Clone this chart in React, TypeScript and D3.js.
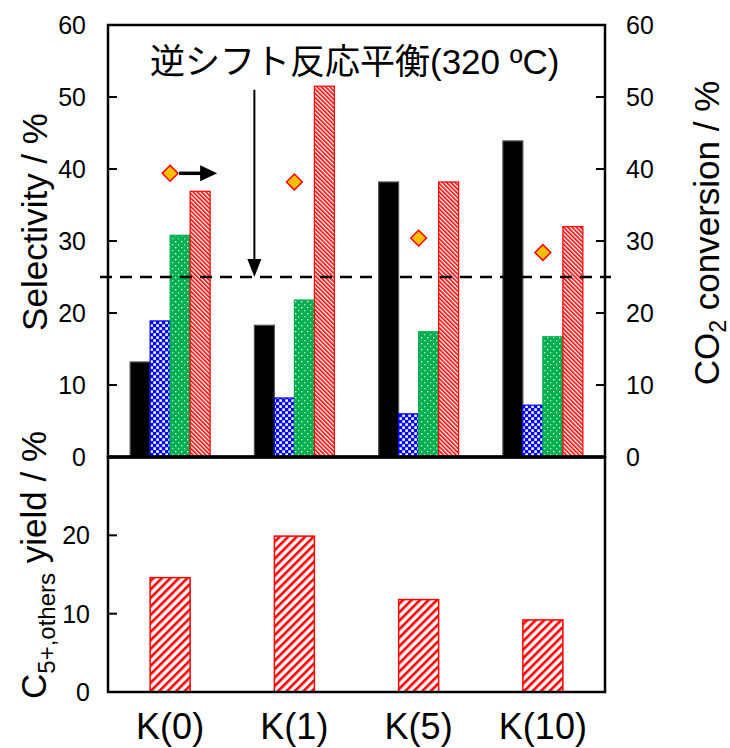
import React from 'react';
import * as d3 from 'd3';

const categories = ['K(0)', 'K(1)', 'K(5)', 'K(10)'];
const series = ['black', 'blue', 'green', 'red'];
// selectivity (%) for each series, per category
const selBlack = [13.2, 18.3, 38.2, 43.9];
const selBlue = [18.9, 8.2, 6.0, 7.2];
const selGreen = [30.8, 21.8, 17.4, 16.7];
const selRed = [36.9, 51.5, 38.2, 32.0];
// CO2 conversion (%), right axis
const conversion = [39.4, 38.2, 30.4, 28.4];
// C5+,others yield (%), lower panel
const yieldC5 = [14.6, 19.9, 11.8, 9.2];
const equilibrium = 25;
const topTicks = [0, 10, 20, 30, 40, 50, 60];
const bottomTicks = [0, 10, 20];

const fontLat = '"Liberation Sans", Arial, "Noto Sans CJK JP", sans-serif';

export default function App() {
  const left = 108, right = 605;
  const topY = 25, midY = 457, botY = 692;

  const x0 = d3.scaleBand().domain(categories).range([left, right]);
  const cx = (c: string) => (x0(c) as number) + x0.bandwidth() / 2;
  const x1 = d3.scaleBand().domain(series).range([-40, 40]);
  const yTop = d3.scaleLinear().domain([0, 60]).range([midY, topY]);
  const yBot = d3.scaleLinear().domain([0, 30]).range([botY, midY]);

  const values: Record<string, number[]> = {
    black: selBlack, blue: selBlue, green: selGreen, red: selRed,
  };
  const fills: Record<string, string> = {
    black: '#000', blue: 'url(#checkBlue)', green: 'url(#dotGreen)', red: 'url(#hatchRed)',
  };
  const strokes: Record<string, string> = {
    black: '#555', blue: '#0000ff', green: '#00b050', red: '#ff0000',
  };

  const diamond = d3.symbol().type(d3.symbolSquare).size(125)() as string;

  // annotation positions derived from scales
  const downX = (x0('K(1)') as number) + x0.bandwidth() / 2 + (x1('black') as number);
  const downTop = yTop(51);
  const downTip = yTop(equilibrium);
  const arrowY = yTop(conversion[0]);
  const arrowStart = cx('K(0)') + 9;
  const arrowTip = cx('K(0)') + (x1('red') as number) + x1.bandwidth() + 7;

  return (
    <svg width={730} height={748} style={{ position: 'absolute', left: 0, top: 0 }} fontFamily={fontLat}>
      <defs>
        <pattern id="checkBlue" width={6} height={6} patternUnits="userSpaceOnUse">
          <rect width={6} height={6} fill="#0000ff" />
          <rect x={0.3} y={0.3} width={2.6} height={2.6} fill="#fff" />
          <rect x={3.3} y={3.3} width={2.6} height={2.6} fill="#fff" />
        </pattern>
        <pattern id="dotGreen" width={6} height={6} patternUnits="userSpaceOnUse">
          <rect width={6} height={6} fill="#00b050" />
          <rect x={1} y={1} width={1.3} height={1.3} fill="#fff" />
          <rect x={4} y={4} width={1.3} height={1.3} fill="#fff" opacity={0.7} />
        </pattern>
        <pattern id="hatchRed" width={3} height={3} patternUnits="userSpaceOnUse" patternTransform="rotate(-45)">
          <rect width={3} height={3} fill="#fff" />
          <rect width={1.6} height={3} fill="#ff0000" />
        </pattern>
        <pattern id="hatchWide" width={6} height={6} patternUnits="userSpaceOnUse" patternTransform="rotate(45)">
          <rect width={6} height={6} fill="#fff" />
          <rect width={2.6} height={6} fill="#ff0000" />
        </pattern>
      </defs>

      {/* top panel bars */}
      {categories.map((c, i) => (
        <g key={c}>
          {series.map((s) => (
            <rect
              key={s}
              x={cx(c) + (x1(s) as number)}
              y={yTop(values[s][i])}
              width={x1.bandwidth()}
              height={midY - yTop(values[s][i])}
              fill={fills[s]}
              stroke={strokes[s]}
              strokeWidth={1.2}
            />
          ))}
        </g>
      ))}

      {/* bottom panel bars */}
      {categories.map((c, i) => (
        <rect
          key={c}
          x={cx(c) - 20}
          y={yBot(yieldC5[i])}
          width={40}
          height={botY - yBot(yieldC5[i])}
          fill="url(#hatchWide)"
          stroke="#ff0000"
          strokeWidth={1.5}
        />
      ))}

      {/* equilibrium dashed line */}
      <line x1={left - 8} x2={right + 6} y1={yTop(equilibrium)} y2={yTop(equilibrium)}
        stroke="#000" strokeWidth={2.5} strokeDasharray="12 8" />

      {/* conversion markers */}
      {categories.map((c, i) => (
        <path key={c} d={diamond} transform={`translate(${cx(c)},${yTop(conversion[i])}) rotate(45)`}
          fill="#ffc000" stroke="#ff0000" strokeWidth={1.5} />
      ))}

      {/* arrows */}
      <line x1={arrowStart} x2={arrowTip - 14} y1={arrowY} y2={arrowY} stroke="#000" strokeWidth={3.5} />
      <path d={`M${arrowTip},${arrowY} L${arrowTip - 17},${arrowY - 8} L${arrowTip - 17},${arrowY + 8} Z`} fill="#000" />
      <line x1={downX} x2={downX} y1={downTop} y2={downTip - 14} stroke="#000" strokeWidth={2} />
      <path d={`M${downX},${downTip} L${downX - 7},${downTip - 18} L${downX + 7},${downTip - 18} Z`} fill="#000" />

      {/* frames */}
      <rect x={left} y={topY} width={right - left} height={midY - topY} fill="none" stroke="#000" strokeWidth={2.5} />
      <rect x={left} y={midY} width={right - left} height={botY - midY} fill="none" stroke="#000" strokeWidth={2.5} />
      <line x1={left} x2={right} y1={midY} y2={midY} stroke="#000" strokeWidth={3.5} />

      {/* top axis ticks */}
      {topTicks.map((t) => (
        <g key={t}>
          {t > 0 && t < 60 && (
            <>
              <line x1={left} x2={left + 9} y1={yTop(t)} y2={yTop(t)} stroke="#000" strokeWidth={2} />
              <line x1={right - 9} x2={right} y1={yTop(t)} y2={yTop(t)} stroke="#000" strokeWidth={2} />
            </>
          )}
          <text x={86} y={yTop(t)} dy="0.36em" textAnchor="end" fontSize={25}>{t}</text>
          <text x={626} y={yTop(t)} dy="0.36em" textAnchor="start" fontSize={25}>{t}</text>
        </g>
      ))}

      {/* bottom axis ticks */}
      {bottomTicks.map((t) => (
        <g key={t}>
          {t > 0 && (
            <line x1={left} x2={left + 9} y1={yBot(t)} y2={yBot(t)} stroke="#000" strokeWidth={2} />
          )}
          <text x={90} y={yBot(t)} dy="0.36em" textAnchor="end" fontSize={25}>{t}</text>
        </g>
      ))}

      {/* category labels */}
      {categories.map((c) => (
        <text key={c} x={cx(c)} y={739} textAnchor="middle" fontSize={36}>{c}</text>
      ))}

      {/* axis titles */}
      <text transform={`translate(47,222) rotate(-90)`} textAnchor="middle" fontSize={35}>Selectivity / %</text>
      <text transform={`translate(719,233) rotate(-90)`} textAnchor="middle" fontSize={35}>
        CO<tspan fontSize={23} dy={7}>2</tspan><tspan dy={-7}> conversion / %</tspan>
      </text>
      <text transform={`translate(46,565) rotate(-90)`} textAnchor="middle" fontSize={35}>
        C<tspan fontSize={24} dy={9}>5+,others</tspan><tspan dy={-9}> yield / %</tspan>
      </text>

      {/* annotation */}
      <text x={150} y={74} fontSize={35}>逆シフト反応平衡(320 ºC)</text>
    </svg>
  );
}
